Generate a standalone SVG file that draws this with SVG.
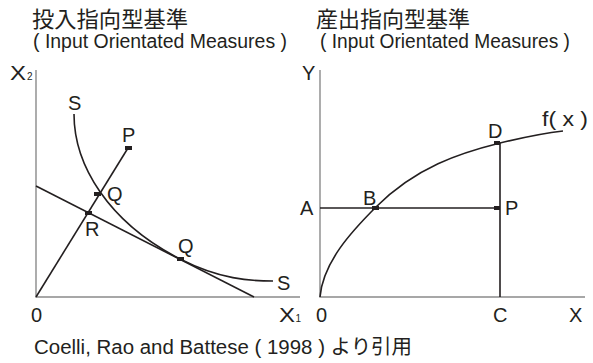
<svg xmlns="http://www.w3.org/2000/svg" width="593" height="363" viewBox="0 0 593 363">
<style>
text{font-family:"Liberation Sans","Noto Sans CJK JP",sans-serif;fill:#231f20}
.lbl{font-size:20px}
.sub{font-size:10px}
.ttl{font-size:22px}
.eng{font-size:20px}
.axis{stroke:#8a8a8a;stroke-width:1.4;fill:none}
.ln{stroke:#231f20;stroke-width:1.6;fill:none}
.mk{fill:#231f20}
</style>
<rect width="593" height="363" fill="#fff"/>
<g id="titles">
<text class="ttl" x="32" y="27" textLength="156" lengthAdjust="spacingAndGlyphs">投入指向型基準</text>
<text class="eng" x="33" y="48" textLength="254" lengthAdjust="spacingAndGlyphs">( Input  Orientated Measures )</text>
<text class="ttl" x="316" y="27" textLength="154" lengthAdjust="spacingAndGlyphs">産出指向型基準</text>
<text class="eng" x="320" y="48" textLength="250" lengthAdjust="spacingAndGlyphs">( Input  Orientated Measures )</text>
</g>
<g id="connectors">
<path class="axis" d="M36,70 V297 H300"/>
<path class="axis" d="M320,70 V297 H585"/>
<path class="ln" d="M36,186 L254,297"/>
<path class="ln" d="M36,297 L128,148"/>
<path class="ln" d="M74,114 C74,165 108,222 180,259 C220,279.4 250,281 273,281"/>
<path class="ln" d="M320,208 H500"/>
<path class="ln" d="M500,143 V297"/>
<path class="ln" d="M320,297 C323,262 352,231 376,207 C416,167 460,153 500,143 C525,137 545,133 563,131"/>
</g>
<g id="left-panel">
<g id="axis-x2"><text class="lbl" x="10" y="80" textLength="16" lengthAdjust="spacingAndGlyphs">X</text><text class="sub" x="27" y="80">2</text></g>
<g id="axis-x1"><text class="lbl" x="279" y="322" textLength="16" lengthAdjust="spacingAndGlyphs">X</text><text class="sub" x="295.5" y="322">1</text></g>
<g id="origin-left"><text class="lbl" x="31" y="322">0</text></g>
<g id="S-top"><text class="lbl" x="68" y="110">S</text></g>
<g id="S-right"><text class="lbl" x="277" y="290">S</text></g>
<g id="P-left"><rect class="mk" x="125" y="146" width="7" height="4"/><text class="lbl" x="122" y="142">P</text></g>
<g id="Q1"><rect class="mk" x="94" y="192" width="7" height="4"/><text class="lbl" x="107" y="201">Q</text></g>
<g id="R"><rect class="mk" x="85" y="211" width="7" height="4"/><text class="lbl" x="85" y="236">R</text></g>
<g id="Q2"><rect class="mk" x="177" y="257" width="7" height="4"/><text class="lbl" x="178" y="253">Q</text></g>
</g>
<g id="right-panel">
<g id="axis-y"><text class="lbl" x="302" y="80">Y</text></g>
<g id="axis-x"><text class="lbl" x="569" y="322">X</text></g>
<g id="origin-right"><text class="lbl" x="316" y="322">0</text></g>
<g id="C"><text class="lbl" x="493" y="322">C</text></g>
<g id="A"><text class="lbl" x="300" y="215">A</text></g>
<g id="B"><rect class="mk" x="372" y="206" width="7" height="4"/><text class="lbl" x="363" y="205">B</text></g>
<g id="P-right"><rect class="mk" x="494" y="206" width="6" height="4"/><text class="lbl" x="505" y="215">P</text></g>
<g id="D"><rect class="mk" x="494" y="141" width="6" height="4"/><text class="lbl" x="488" y="138">D</text></g>
<g id="fx"><text class="lbl" x="542" y="126" textLength="46" lengthAdjust="spacingAndGlyphs">f( x )</text></g>
</g>
<g id="footer">
<text class="eng" x="34" y="354" textLength="378" lengthAdjust="spacingAndGlyphs">Coelli, Rao and Battese ( 1998 ) より引用</text>
</g>
</svg>
